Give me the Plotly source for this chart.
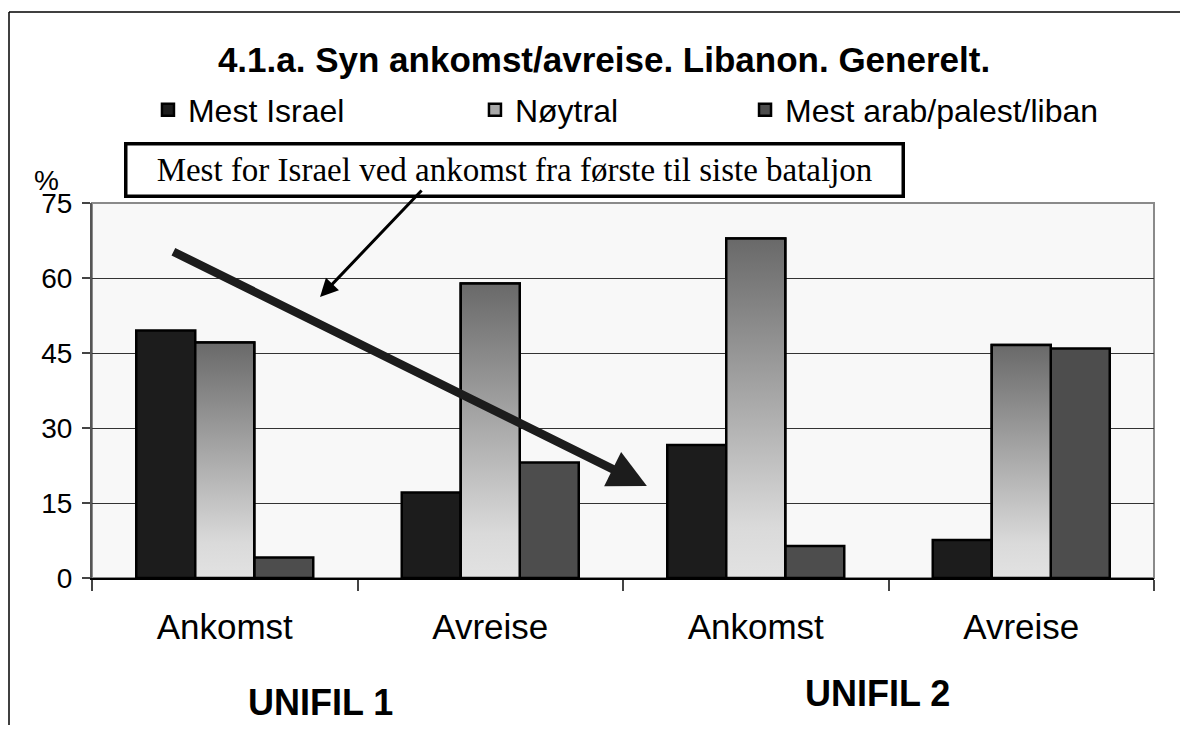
import plotly.graph_objects as go

# ---------- data ----------
positions = [0, 1, 2, 3]
categories = ["Ankomst", "Avreise", "Ankomst", "Avreise"]
groups = ["UNIFIL 1", "UNIFIL 2"]
mest_israel = [49.5, 17.1, 26.6, 7.6]
noytral = [47.1, 58.9, 67.9, 46.6]
mest_arab = [4.1, 23.1, 6.4, 45.9]
y_ticks = [0, 15, 30, 45, 60, 75]

SANS = "Liberation Sans, Arial, sans-serif"
SERIF = "Liberation Serif, Times New Roman, serif"
BARGAP = 1 / 3
BAR_W = (1 - BARGAP) / 3
OUTLINE = dict(color="black", width=2.5)

# the page body adds an 8px margin on every side; keep the figure inside the window
W, H = 1172, 717
ML, MT = 84, 195
PW, PH = 1062, 375

fig = go.Figure()
fig.add_trace(go.Bar(x=positions, y=mest_israel, name="Mest Israel",
                     marker=dict(color="#1c1c1c", line=OUTLINE), legend="legend"))
fig.add_trace(go.Bar(x=positions, y=noytral, name="Nøytral",
                     marker=dict(color="#a8a8a8", line=OUTLINE), legend="legend2"))
fig.add_trace(go.Bar(x=positions, y=mest_arab, name="Mest arab/palest/liban",
                     marker=dict(color="#4d4d4d", line=OUTLINE), legend="legend3"))

# gradient overlay for the Nøytral bars (light at the base, dark at the top)
for xi, v in zip(positions, noytral):
    fig.add_trace(go.Scatter(
        x=[xi - BAR_W / 2, xi + BAR_W / 2, xi + BAR_W / 2, xi - BAR_W / 2, xi - BAR_W / 2],
        y=[0, 0, v, v, 0],
        mode="lines", fill="toself", line=OUTLINE,
        fillgradient=dict(type="vertical", start=0, stop=v,
                          colorscale=[[0, "#e2e2e2"], [0.15, "#dadada"], [1, "#696969"]]),
        showlegend=False, hoverinfo="skip"))

fig.update_layout(
    width=W, height=H,
    margin=dict(l=ML, r=W - ML - PW, t=MT, b=H - MT - PH),
    paper_bgcolor="white", plot_bgcolor="#f8f8f8",
    barmode="group", bargap=BARGAP, bargroupgap=0,
    font=dict(family=SANS, color="black"),
    title=dict(text="<b>4.1.a. Syn ankomst/avreise. Libanon. Generelt.</b>",
               x=(604 - 8) / W, xanchor="center", y=1 - 52 / H, yanchor="middle",
               font=dict(size=35, family=SANS, color="black")),
)

legend_common = dict(orientation="h", yanchor="middle", y=1.248, xanchor="left",
                     font=dict(size=32, family=SANS), bgcolor="rgba(0,0,0,0)")
fig.update_layout(
    legend=dict(x=0.0527, **legend_common),
    legend2=dict(x=0.3606, **legend_common),
    legend3=dict(x=0.6149, **legend_common),
)

fig.update_xaxes(
    range=[-0.5, 3.5], tickvals=positions, ticktext=categories,
    ticks="", showgrid=False, zeroline=False,
    showline=True, linecolor="black", linewidth=1.5,
    tickfont=dict(size=35, family=SANS), ticklabelstandoff=17,
    minor=dict(tick0=-0.5, dtick=1, ticks="outside", ticklen=11,
               tickcolor="#444", tickwidth=1.5, showgrid=False),
)
fig.update_yaxes(
    range=[0, 75], tickvals=y_ticks, ticks="outside", ticklen=8,
    tickcolor="#444", tickwidth=1.5,
    showgrid=True, gridcolor="#333333", gridwidth=1, zeroline=False,
    showline=True, linecolor="#555", linewidth=2,
    tickfont=dict(size=28, family=SANS), ticklabelstandoff=4,
)

# plot-area frame (gray top/right like the original)
fig.add_shape(type="rect", xref="paper", yref="paper", x0=0, x1=1, y0=0, y1=1,
              line=dict(color="#8a8a8a", width=2), layer="between")
# outer picture frame: only top and left edges are visible in the original
frame_x = (1 - ML) / PW
frame_y = (578 - 12) / PH
fig.add_shape(type="line", xref="paper", yref="paper", x0=frame_x, x1=1.2,
              y0=frame_y, y1=frame_y, line=dict(color="black", width=1.5), layer="below")
fig.add_shape(type="line", xref="paper", yref="paper", x0=frame_x, x1=frame_x,
              y0=-0.6, y1=frame_y, line=dict(color="black", width=1.5), layer="below")

# callout box and arrows
fig.add_annotation(xref="paper", yref="paper", x=0.3983, y=1.0893,
                   xanchor="center", yanchor="middle",
                   text="Mest for Israel ved ankomst fra første til siste bataljon",
                   showarrow=False, font=dict(family=SERIF, size=33, color="black"),
                   bgcolor="white", bordercolor="black", borderwidth=3.5, borderpad=2,
                   width=770, height=45)
fig.add_annotation(x=0.3588, y=56.2, ax=103, ay=-108, text="",
                   showarrow=True, arrowhead=2, arrowsize=1.2, arrowwidth=3,
                   arrowcolor="black", standoff=0)
fig.add_annotation(x=1.590, y=18.4, ax=-475, ay=-235, text="",
                   showarrow=True, arrowhead=2, arrowsize=0.9, arrowwidth=8.5,
                   arrowcolor="#1c1c1c", standoff=0)

# % label and group labels
label_common = dict(xref="paper", yref="paper", xanchor="center", yanchor="middle",
                    showarrow=False)
fig.add_annotation(x=-0.0433, y=1.0587, text="%", font=dict(size=28, family=SANS),
                   **label_common)
fig.add_annotation(x=0.2147, y=-0.3307, text="<b>" + groups[0] + "</b>",
                   font=dict(size=36, family=SANS), **label_common)
fig.add_annotation(x=0.7392, y=-0.3093, text="<b>" + groups[1] + "</b>",
                   font=dict(size=36, family=SANS), **label_common)

fig.write_html("out.html")
